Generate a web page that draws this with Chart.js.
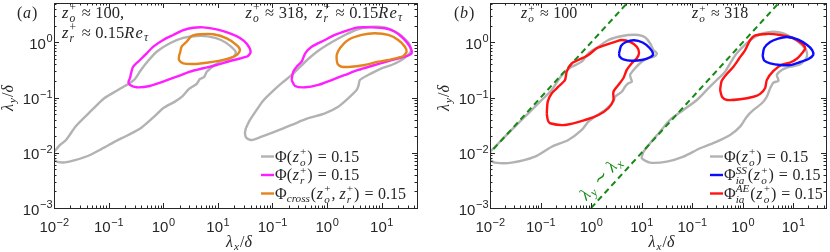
<!DOCTYPE html>
<html>
<head>
<meta charset="utf-8">
<script src="https://cdn.jsdelivr.net/npm/chart.js@4.4.1/dist/chart.umd.min.js"></script>
<style>
  html, body { margin: 0; padding: 0; background: #fff; }
  #wrap { position: relative; width: 830px; height: 252px; }
  canvas { position: absolute; top: 0; }
  #ca { left: 0; }
  #cb { left: 410px; }
</style>
</head>
<body>
<div id="wrap">
  <canvas id="ca" width="420" height="252"></canvas>
  <canvas id="cb" width="420" height="252"></canvas>
</div>
<script>
// ---- contour data: lambda_x/delta and lambda_y/delta ----

// (a) z_o+ ~ 100
const phiOA100X = [0.0101,0.0129,0.0166,0.0253,0.0497,0.0824,0.149,0.237,0.305,0.392,0.527,0.769,1.33,2.33,4.1,6.61,11.5,17.5,21.5,19,14.6,11,8.3,6.34,5.6,4.72,4.1,2.97,2.21,1.64,1.0,0.66,0.404,0.23,0.131,0.0748,0.0425,0.0243,0.0159,0.0116,0.0102];
const phiOA100Y = [0.0105,0.0139,0.0171,0.0307,0.0599,0.0968,0.138,0.181,0.218,0.318,0.462,0.687,0.97,1.21,1.31,1.29,1.11,0.84,0.659,0.546,0.492,0.453,0.375,0.298,0.237,0.218,0.177,0.144,0.104,0.0847,0.0643,0.0438,0.0289,0.0211,0.016,0.0118,0.00886,0.00735,0.0067,0.00684,0.0074];
const phiRA100X = [0.247,0.28,0.376,0.5,0.66,1.0,1.53,2.33,3.56,5.42,9.55,16.7,25.5,34.3,40,35.7,25.5,16.7,9.55,5.42,3.1,1.77,1.0,0.573,0.327,0.247,0.231];
const phiRA100Y = [0.227,0.36,0.482,0.637,0.84,1.11,1.37,1.68,1.85,1.88,1.73,1.47,1.21,0.94,0.68,0.57,0.513,0.462,0.391,0.341,0.296,0.24,0.195,0.163,0.154,0.17,0.192];
const crossA100X = [2.03,2.18,2.69,3.33,4.72,8.3,14.6,22.2,25.5,22.2,16.7,11,6.27,3.56,2.33,1.95,1.97];
const crossA100Y = [0.637,0.84,1.03,1.31,1.41,1.41,1.19,0.90,0.73,0.59,0.52,0.468,0.43,0.408,0.42,0.48,0.59];

// (a) z_o+ ~ 318
const phiOA318X = [0.0328,0.0389,0.0515,0.0673,0.0984,0.15,0.238,0.395,0.684,1.24,2.14,3.54,5.64,8.59,13.1,20,26.8,33.1,34.5,29.2,23.3,15.3,10.0,5.7,4.02,3.78,3.5,2.45,1.61,0.918,0.455,0.225,0.112,0.0637,0.0418,0.0338,0.0315];
const phiOA318Y = [0.0282,0.0394,0.0599,0.0871,0.127,0.185,0.269,0.443,0.701,1.02,1.37,1.72,1.91,1.93,1.81,1.47,1.16,0.90,0.70,0.57,0.482,0.391,0.341,0.258,0.209,0.163,0.138,0.0975,0.0687,0.0521,0.0424,0.032,0.0242,0.0197,0.0171,0.0184,0.0226];
const phiRA318X = [0.225,0.26,0.4,0.693,1.22,2.14,3.74,7.57,15.3,26.8,35.6,33.1,25,17.6,11.5,6.59,3.74,2.45,1.4,0.918,0.525,0.4,0.344,0.279,0.242];
const phiRA318Y = [0.209,0.163,0.154,0.17,0.209,0.258,0.318,0.391,0.482,0.553,0.637,0.84,1.19,1.57,1.81,1.88,1.88,1.68,1.37,1.11,0.84,0.637,0.449,0.364,0.296];
const crossA318X = [1.51,1.51,1.73,2.45,4.32,7.57,13.3,20.2,26.8,28.8,25,15.3,8.7,4.97,2.83,1.86,1.57];
const crossA318Y = [0.482,0.594,0.785,1.11,1.37,1.47,1.37,1.11,0.84,0.68,0.57,0.496,0.449,0.391,0.364,0.364,0.408];

// (b) z_o+ ~ 100
const phiOB100X = [0.01,0.0126,0.0198,0.0363,0.0573,0.106,0.167,0.225,0.305,0.415,0.655,0.885,1.4,2.2,3.47,5.48,8.65,11.7,14.7,17.1,20,18.5,13.6,10.1,7.43,5.92,6.4,5.48,4.71,4.06,2.99,2.77,1.89,1.2,0.885,0.655,0.355,0.167,0.0778,0.0269,0.0126,0.01];
const phiOB100Y = [0.0105,0.0129,0.0197,0.0344,0.0521,0.0908,0.138,0.209,0.296,0.364,0.449,0.637,0.84,1.11,1.27,1.37,1.37,1.24,0.97,0.73,0.637,0.57,0.518,0.449,0.341,0.258,0.195,0.182,0.158,0.128,0.104,0.0847,0.0599,0.0453,0.0367,0.026,0.0171,0.0129,0.00853,0.00664,0.00664,0.0074];
const ssB100X = [3.58,3.93,4.93,7.1,10.5,14.1,16.9,14.7,10.1,6.4,4.36,3.67];
const ssB100Y = [0.637,0.865,1.02,1.1,1.0,0.81,0.619,0.54,0.482,0.468,0.496,0.557];
const aeB100X = [0.133,0.139,0.154,0.305,0.76,1.4,2.2,2.77,2.77,3.47,4.36,5.09,6.4,8.04,8.91,8.04,5.92,4.06,2.99,1.89,1.3,0.885,0.561,0.415,0.33,0.305,0.225,0.167,0.139];
const aeB100Y = [0.0521,0.0394,0.0344,0.032,0.0394,0.0486,0.0643,0.0908,0.128,0.17,0.225,0.318,0.42,0.518,0.653,0.84,1.03,1.11,1.03,0.90,0.785,0.594,0.482,0.42,0.296,0.209,0.158,0.12,0.0847];

// (b) z_o+ ~ 318
const phiOB318X = [0.0109,0.0147,0.0232,0.0366,0.0673,0.124,0.195,0.308,0.45,0.565,0.767,1.21,1.77,2.58,4.07,6.43,10.1,14.9,18.1,18.7,16,12.7,8.73,5.97,4.75,5.12,4.07,3.51,3.01,2.4,1.64,1.21,0.89,0.565,0.308,0.144,0.0673,0.0315,0.0147,0.0101];
const phiOB318Y = [0.0105,0.0149,0.0242,0.0394,0.0599,0.0908,0.138,0.209,0.296,0.42,0.637,0.97,1.27,1.47,1.57,1.47,1.19,0.90,0.73,0.553,0.449,0.391,0.364,0.318,0.258,0.203,0.187,0.148,0.104,0.0792,0.0599,0.0453,0.0298,0.0211,0.016,0.0121,0.00853,0.00693,0.00664,0.008];
const ssB318X = [2.49,2.67,3.51,5.05,7.6,12.6,18.9,23.8,24.9,20.1,13.8,8.73,5.53,3.51,2.67];
const ssB318Y = [0.57,0.795,1.02,1.18,1.26,1.13,0.90,0.73,0.594,0.502,0.443,0.391,0.391,0.42,0.472];
const aeB318X = [0.358,0.393,0.493,0.89,1.64,2.22,2.79,3.01,4.07,6.05,8.73,12,15.1,17.3,14.7,9.55,5.53,3.01,1.77,1.41,1.12,0.853,0.658,0.486,0.384];
const aeB318Y = [0.138,0.103,0.0908,0.0935,0.104,0.117,0.15,0.209,0.305,0.399,0.434,0.513,0.645,0.785,0.97,1.21,1.37,1.43,1.34,1.11,0.73,0.513,0.364,0.269,0.201];

// lambda_y ~ lambda_x guide
const slopeX = [0.001, 10];
const slopeY = [0.001, 10];

// tick labels (the x axis is two log axes side by side)
const xTickPos = [0.01, 0.1, 1, 10, 100, 1000, 10000];
const xTickExp = ['-2', '-1', '0', '1', '-1', '0', '1'];
const yTickPos = [0.001, 0.01, 0.1, 1];
const yTickExp = ['-3', '-2', '-1', '0'];

const copyShift = 1000; // second block starts three decades further on
const X_MAX = Math.pow(10, 4.65);
const Y_MAX = 5.2;

const GRAY = '#b2b2b2', MAGENTA = '#ff1eff', ORANGE = '#e3841c';
const BLUE = '#0b0bff', RED = '#ff1212', GREEN = '#148a14';
const INK = '#262626';
const SERIF = '"Liberation Serif","DejaVu Serif",serif';
const SANS = '"Liberation Sans",Arial,sans-serif';
const TXT = 16;

function pts(xs, ys, shift, close) {
  const n = Math.min(xs.length, ys.length);
  const p = [];
  for (let i = 0; i < n; i++) p.push({x: xs[i] * shift, y: ys[i]});
  if (close) p.push(p[0]);
  return p;
}

function curve(data, color, order, extra) {
  return Object.assign({
    data: data, showLine: true, borderColor: color, backgroundColor: color,
    borderWidth: 2.4, pointRadius: 0, tension: 0.25, fill: false, order: order
  }, extra || {});
}

// --- tiny tex-ish text drawing ---
function isIt(s) { return /[A-Za-zλδτ]/.test(s); }
function isRel(s) { return /[=≈∼]/.test(s); }
function fnt(size, it) { return (it ? 'italic ' : '') + size + 'px ' + SERIF; }

function parseTex(s) {
  const out = [];
  let i = 0;
  while (i < s.length) {
    const c = s[i];
    if (c === '_' || c === '^') {
      let arg, j = i + 1;
      if (s[j] === '{') { const k = s.indexOf('}', j); arg = s.slice(j + 1, k); i = k + 1; }
      else { arg = s[j]; i = j + 1; }
      const last = out[out.length - 1];
      const key = c === '_' ? 'sub' : 'sup';
      if (last && last.script) last[key] = arg;
      else { const t = {script: true}; t[key] = arg; out.push(t); }
      continue;
    }
    out.push({t: c});
    i++;
  }
  return out;
}

function drawTex(ctx, s, x, y, size, align, color) {
  const toks = parseTex(s);
  const small = size * 0.7;
  const items = [];
  let w = 0;
  toks.forEach(t => {
    if (t.script) {
      let sw = 0, bw = 0;
      if (t.sup) { ctx.font = fnt(small, isIt(t.sup)); sw = ctx.measureText(t.sup).width; }
      if (t.sub) { ctx.font = fnt(small, true); bw = ctx.measureText(t.sub).width; }
      items.push({x: w, sup: t.sup, sub: t.sub, both: !!(t.sup && t.sub)});
      w += Math.max(sw, bw) + size * 0.06;
    } else {
      const it = isIt(t.t);
      ctx.font = fnt(size, it);
      const cw = ctx.measureText(t.t).width;
      if (isRel(t.t)) {
        items.push({x: w + size * 0.28, t: t.t, it: false});
        w += cw + size * 0.56;
      } else {
        items.push({x: w, t: t.t, it: it});
        w += cw + (it ? size * 0.07 : 0) + (t.t === '(' || t.t === ')' ? size * 0.04 : 0);
      }
    }
  });
  let x0 = x;
  if (align === 'center') x0 = x - w / 2;
  else if (align === 'right') x0 = x - w;
  ctx.fillStyle = color || INK;
  ctx.textBaseline = 'alphabetic';
  ctx.textAlign = 'left';
  items.forEach(it => {
    if (it.t !== undefined) {
      ctx.font = fnt(size, it.it);
      ctx.fillText(it.t, x0 + it.x, y);
    } else {
      if (it.sup) {
        ctx.font = fnt(small, isIt(it.sup));
        ctx.fillText(it.sup, x0 + it.x, y - size * (it.both ? 0.4 : 0.42));
      }
      if (it.sub) {
        ctx.font = fnt(small, true);
        ctx.fillText(it.sub, x0 + it.x, y + size * (it.both ? 0.27 : 0.2));
      }
    }
  });
  return w;
}

function drawPow(ctx, exp, x, y, align) {
  const e = exp.replace('-', '\u2212');
  ctx.font = '15px ' + SANS;
  const w1 = ctx.measureText('10').width;
  ctx.font = '11px ' + SANS;
  const w2 = ctx.measureText(e).width;
  const x0 = align === 'center' ? x - (w1 + w2) / 2 : x - w1 - w2;
  ctx.fillStyle = INK;
  ctx.textAlign = 'left';
  ctx.textBaseline = 'alphabetic';
  ctx.font = '15px ' + SANS;
  ctx.fillText('10', x0, y);
  ctx.font = '11px ' + SANS;
  ctx.fillText(e, x0 + w1 + 0.5, y - 6.5);
}

function drawLegend(ctx, rows, lx, y0, dy) {
  rows.forEach((r, i) => {
    const y = y0 + i * dy;
    ctx.strokeStyle = r.c;
    ctx.lineWidth = 2.4;
    ctx.beginPath();
    ctx.moveTo(lx, y);
    ctx.lineTo(lx + 13, y);
    ctx.stroke();
    drawTex(ctx, r.s, lx + 14, y + 5, TXT);
  });
}

function framePlugin(extra) {
  return {
    id: 'frame',
    afterDraw(chart) {
      const ctx = chart.ctx, a = chart.chartArea;
      const sx = chart.scales.x, sy = chart.scales.y;
      ctx.save();
      ctx.strokeStyle = INK;
      ctx.lineWidth = 1;
      ctx.beginPath();
      for (let k = -2; k <= 4; k++) {
        for (let m = 1; m <= 9; m++) {
          const v = m * Math.pow(10, k);
          if (v < 0.0099 || v > X_MAX) continue;
          const px = Math.round(sx.getPixelForValue(v)) + 0.5;
          const len = m === 1 ? 5 : 2.5;
          ctx.moveTo(px, a.bottom); ctx.lineTo(px, a.bottom - len);
          ctx.moveTo(px, a.top); ctx.lineTo(px, a.top + len);
        }
      }
      for (let k = -3; k <= 0; k++) {
        for (let m = 1; m <= 9; m++) {
          const v = m * Math.pow(10, k);
          if (v < 0.00099 || v > Y_MAX) continue;
          const py = Math.round(sy.getPixelForValue(v)) + 0.5;
          const len = m === 1 ? 5 : 2.5;
          ctx.moveTo(a.left, py); ctx.lineTo(a.left + len, py);
          ctx.moveTo(a.right, py); ctx.lineTo(a.right - len, py);
        }
      }
      ctx.stroke();
      ctx.strokeRect(Math.round(a.left) + 0.5, Math.round(a.top) + 0.5,
        Math.round(a.right - a.left), Math.round(a.bottom - a.top));

      xTickPos.forEach((v, i) => drawPow(ctx, xTickExp[i], sx.getPixelForValue(v), a.bottom + 24, 'center'));
      yTickPos.forEach((v, i) => drawPow(ctx, yTickExp[i], a.left - 2, sy.getPixelForValue(v) + 6.5, 'right'));

      // axis titles
      drawTex(ctx, 'λ_x/δ', (a.left + a.right) / 2 + 4, 247, TXT, 'center');
      ctx.save();
      ctx.translate(a.left - 41, (a.top + a.bottom) / 2 - 8);
      ctx.rotate(-Math.PI / 2);
      drawTex(ctx, 'λ_y/δ', 0, 0, TXT, 'center');
      ctx.restore();

      extra(ctx, a, sx, sy);
      ctx.restore();
    }
  };
}

function makeChart(id, datasets, padLeft, padRight, extra) {
  return new Chart(document.getElementById(id), {
    type: 'scatter',
    data: {datasets: datasets},
    options: {
      responsive: false,
      animation: false,
      layout: {padding: {left: padLeft, right: padRight, top: 3, bottom: 44}},
      plugins: {legend: {display: false}, tooltip: {enabled: false}},
      scales: {
        x: {type: 'logarithmic', min: 0.01, max: X_MAX, display: false},
        y: {type: 'logarithmic', min: 0.001, max: Y_MAX, display: false}
      }
    },
    plugins: [framePlugin(extra)]
  });
}

// panel (a)
makeChart('ca', [
  curve(pts(phiOA100X, phiOA100Y, 1, false), GRAY, 5),
  curve(pts(phiRA100X, phiRA100Y, 1, true), MAGENTA, 4),
  curve(pts(crossA100X, crossA100Y, 1, true), ORANGE, 3),
  curve(pts(phiOA318X, phiOA318Y, copyShift, true), GRAY, 5),
  curve(pts(phiRA318X, phiRA318Y, copyShift, true), MAGENTA, 4),
  curve(pts(crossA318X, crossA318Y, copyShift, true), ORANGE, 3)
], 54, 3, (ctx, a) => {
  drawTex(ctx, '(a)', 17, 18, TXT);
  drawTex(ctx, 'z_o^+≈100,', 62, 18, 16.5);
  drawTex(ctx, 'z_r^+≈0.15Re_τ', 62, 38, 16.5);
  drawTex(ctx, 'z_o^+≈318,  z_r^+≈0.15Re_τ', 403, 18, 16.5, 'right');
  drawLegend(ctx, [
    {c: GRAY, s: 'Φ(z_o^+)=0.15'},
    {c: MAGENTA, s: 'Φ(z_r^+)=0.15'},
    {c: ORANGE, s: 'Φ_{cross}(z_o^+, z_r^+)=0.15'}
  ], 261, 156.5, 18.5);
});

// panel (b)
makeChart('cb', [
  curve(pts(phiOB100X, phiOB100Y, 1, false), GRAY, 6),
  curve(pts(slopeX, slopeY, 1, false), GREEN, 5, {borderWidth: 2, borderDash: [6, 4], tension: 0}),
  curve(pts(aeB100X, aeB100Y, 1, true), RED, 4),
  curve(pts(ssB100X, ssB100Y, 1, true), BLUE, 3),
  curve(pts(phiOB318X, phiOB318Y, copyShift, true), GRAY, 6),
  curve(pts(slopeX, slopeY, copyShift, false), GREEN, 5, {borderWidth: 2, borderDash: [6, 4], tension: 0}),
  curve(pts(aeB318X, aeB318Y, copyShift, true), RED, 4),
  curve(pts(ssB318X, ssB318Y, copyShift, true), BLUE, 3)
], 80, 4, (ctx, a) => {
  drawTex(ctx, '(b)', 44, 18, TXT);
  drawTex(ctx, 'z_o^+≈100', 111, 18, TXT);
  drawTex(ctx, 'z_o^+≈318', 282, 18, TXT);
  drawLegend(ctx, [
    {c: GRAY, s: 'Φ(z_o^+)=0.15'},
    {c: BLUE, s: 'Φ_{ia}^{SS}(z_o^+)=0.15'},
    {c: RED, s: 'Φ_{ia}^{AE}(z_o^+)=0.15'}
  ], 300, 156.5, 18.5);
  ctx.save();
  ctx.translate(191, 178);
  ctx.rotate(-47 * Math.PI / 180);
  drawTex(ctx, 'λ_y∼λ_x', 0, 5, 17, 'center', GREEN);
  ctx.restore();
});
</script>
</body>
</html>
